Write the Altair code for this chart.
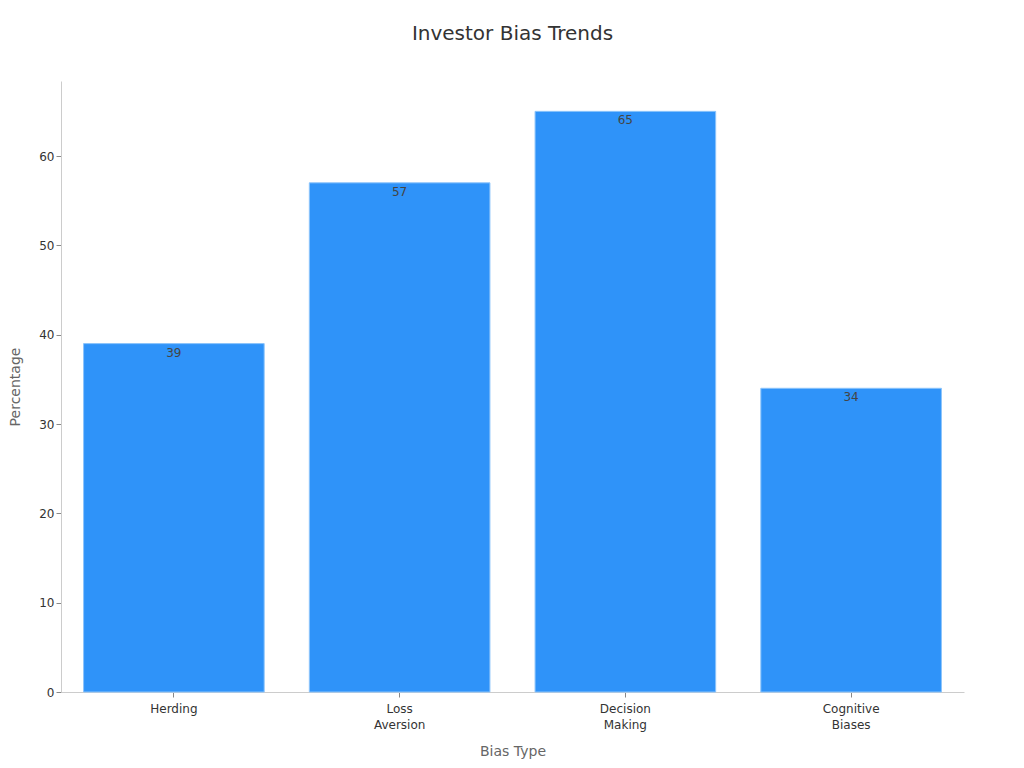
import altair as alt
import pandas as pd

categories = ["Herding", "Loss Aversion", "Decision Making", "Cognitive Biases"]
values = [39, 57, 65, 34]

df = pd.DataFrame({"Bias Type": categories, "Percentage": values})

font = "DejaVu Sans"

base = alt.Chart(df).encode(
    x=alt.X("Bias Type:N", sort=None,
            scale=alt.Scale(paddingInner=0.2, paddingOuter=0.1),
            axis=alt.Axis(labelAngle=0, labelExpr="split(datum.label, ' ')",
                          title="Bias Type", titlePadding=14,
                          labelPadding=6, labelLineHeight=16)),
    y=alt.Y("Percentage:Q", scale=alt.Scale(domain=[0, 68.4], nice=False),
            axis=alt.Axis(values=[0, 10, 20, 30, 40, 50, 60], grid=False,
                          title="Percentage", titlePadding=16)),
)

bars = base.mark_bar(color="#2F93F9", stroke="#8CC4FB", strokeWidth=1)
labels = base.mark_text(baseline="top", dy=4, fontSize=12, color="#444444", font=font).encode(
    text="Percentage:Q"
)

chart = (bars + labels).properties(
    width=903, height=611,
    title=alt.TitleParams("Investor Bias Trends", fontSize=20, font=font,
                          fontWeight="normal", color="#333333", offset=37),
    padding={"left": 0, "top": 16, "right": 5, "bottom": 5},
).configure_view(stroke=None).configure_axis(
    labelFont=font, titleFont=font, labelFontSize=12, titleFontSize=14,
    labelColor="#333333", titleColor="#666666", titleFontWeight="normal",
    domainColor="#cccccc", tickColor="#888888",
)

chart.save("out.html", embed_options={"renderer": "svg", "actions": False})
